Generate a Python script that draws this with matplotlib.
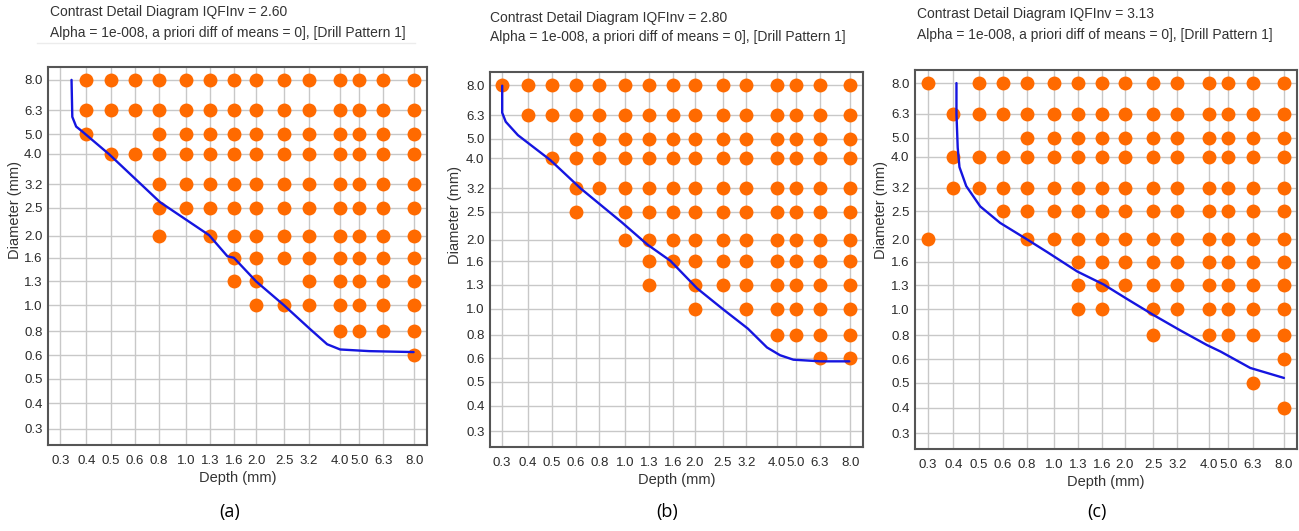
import numpy as np
import matplotlib.pyplot as plt

plt.rcParams['font.family'] = ['Liberation Sans', 'DejaVu Sans']

# disc sizes of the CDRAD phantom (same list on both axes, mm)
sizes = [0.3, 0.4, 0.5, 0.6, 0.8, 1.0, 1.3, 1.6, 2.0, 2.5, 3.2, 4.0, 5.0, 6.3, 8.0]
size_labels = ["%.1f" % s for s in sizes]

iqf_values = ["2.60", "2.80", "3.13"]
panel_tags = ["(a)", "(b)", "(c)"]

# detected discs: one string per diameter row (8.0 on top ... 0.3 at bottom),
# one character per depth column (0.3 ... 8.0)
hits_a = ["011111111111111",
          "011111111111111",
          "010011111111111",
          "001111111111111",
          "000011111111111",
          "000011111111111",
          "000010111111111",
          "000000011111111",
          "000000011011111",
          "000000001111111",
          "000000000001111",
          "000000000000001",
          "000000000000000",
          "000000000000000",
          "000000000000000"]

hits_b = ["111111111111111",
          "011111111111111",
          "000111111111111",
          "001111111111111",
          "000111111111111",
          "000101111111111",
          "000001111111111",
          "000000111111111",
          "000000101111111",
          "000000001011111",
          "000000000001111",
          "000000000000011",
          "000000000000000",
          "000000000000000",
          "000000000000000"]

hits_c = ["101111111111111",
          "011111111111111",
          "000011111111111",
          "011111111111111",
          "011111111111111",
          "000111111111111",
          "100011111111111",
          "000000111111111",
          "000000111111111",
          "000000110111111",
          "000000000101111",
          "000000000000001",
          "000000000000010",
          "000000000000001",
          "000000000000000"]

# fitted threshold curves, in grid units (depth index, diameter index; 0 = 0.3 mm)
curve_a_x = [0.43, 0.46, 0.61, 0.85, 1.93, 4.03, 5.97, 6.73, 7.0, 8.0, 8.98, 10.05, 10.6, 11.03, 12.42, 13.98]
curve_a_y = [14.0, 12.73, 12.32, 12.11, 10.97, 9.24, 8.02, 7.07, 7.0, 6.0, 5.0, 4.09, 3.46, 3.24, 3.17, 3.13]

curve_b_x = [-0.05, 0.0, 0.14, 0.62, 1.94, 3.21, 4.84, 5.93, 6.9, 8.08, 9.02, 10.05, 10.68, 11.17, 11.86, 13.03, 13.97]
curve_b_y = [13.98, 13.09, 12.73, 12.16, 10.93, 10.0, 8.64, 7.77, 7.03, 5.86, 4.97, 4.23, 3.45, 3.12, 2.93, 2.86, 2.86]

curve_c_x = [1.12, 1.12, 1.17, 1.24, 1.51, 2.07, 2.89, 4.0, 4.75, 5.97, 7.07, 8.1, 9.0, 10.09, 10.95, 11.6, 12.9, 14.0]
curve_c_y = [14.0, 13.0, 11.48, 10.67, 10.05, 9.21, 8.59, 8.0, 7.43, 6.58, 6.03, 5.41, 4.78, 4.19, 3.59, 3.32, 2.63, 2.21]

hits_all = [hits_a, hits_b, hits_c]
curves = [(curve_a_x, curve_a_y), (curve_b_x, curve_b_y), (curve_c_x, curve_c_y)]

# the software's axes: log spacing of the mirrored size list
idx = np.arange(len(sizes))
pos = -np.log10(np.array(sizes[::-1]))

fig = plt.figure(figsize=(12.99, 5.31), dpi=100)

rects = [[0.037, 0.162, 0.2918, 0.712],
         [0.3772, 0.158, 0.2871, 0.706],
         [0.7044, 0.154, 0.294, 0.714]]
title_xy = [(50, 12, 33), (490, 18, 37), (917, 14, 35)]
ylab_xy = [(-0.069, 0.622), (-0.075, 0.619), (-0.071, 0.63)]
tag_x = [230, 667, 1097]

for k in range(3):
    ax = fig.add_axes(rects[k])
    hits = hits_all[k]

    xs, ys = [], []
    for r, row in enumerate(hits):
        j = len(sizes) - 1 - r
        for c, ch in enumerate(row):
            if ch == "1":
                xs.append(pos[c])
                ys.append(pos[j])
    ax.scatter(xs, ys, s=100, color="#ff6a00", linewidths=0, zorder=3)

    cx, cy = curves[k]
    ax.plot(np.interp(cx, idx, pos), np.interp(cy, idx, pos),
            color="#1515e0", lw=1.7, solid_capstyle="round", zorder=4)

    ax.set_xticks(pos)
    ax.set_xticklabels(size_labels)
    ax.set_yticks(pos)
    ax.set_yticklabels(size_labels)
    ax.set_xlim(pos[0] - 0.05, pos[-1] + 0.052)
    ax.set_ylim(pos[0] - 0.066, pos[-1] + 0.053)
    ax.grid(True, color="#c8c8c8", lw=1.0)
    ax.set_axisbelow(True)
    ax.tick_params(length=0, labelsize=9.5, labelcolor="#2a2a2a")
    ax.tick_params(axis="x", pad=7)
    ax.tick_params(axis="y", pad=4)
    for sp in ax.spines.values():
        sp.set_color("#555555")
        sp.set_linewidth(1.5)

    ax.set_xlabel("Depth (mm)", fontsize=10.5, color="#333333", labelpad=3)
    ax.set_ylabel("Diameter (mm)", fontsize=10.5, color="#333333")
    ax.yaxis.set_label_coords(*ylab_xy[k])

    tx, ty1, ty2 = title_xy[k]
    fig.text(tx / 1299, 1 - ty1 / 531, "Contrast Detail Diagram IQFInv = " + iqf_values[k],
             fontsize=10, color="#333333", va="center", ha="left")
    fig.text(tx / 1299, 1 - ty2 / 531,
             "Alpha = 1e-008, a priori diff of means = 0], [Drill Pattern 1]",
             fontsize=10, color="#333333", va="center", ha="left")

    fig.text(tag_x[k] / 1299, 1 - 512 / 531, panel_tags[k], fontsize=13,
             family=["Open Sans", "DejaVu Sans"], ha="center", va="center")

# faint rule under the first header
fig.add_artist(plt.Line2D([37 / 1299, 415 / 1299], [1 - 43 / 531, 1 - 43 / 531],
                          color="#ececec", lw=1))

plt.savefig("out.png", dpi=100)
